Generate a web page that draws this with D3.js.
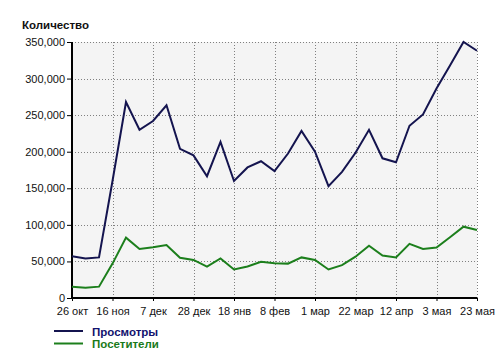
<!DOCTYPE html>
<html>
<head>
<meta charset="utf-8">
<script src="https://cdn.jsdelivr.net/npm/d3@7"></script>
<style>
  html, body { margin: 0; padding: 0; background: #fff; overflow: hidden; }
  svg { display: block; }
  svg text { font-family: "Liberation Sans", Arial, sans-serif; }
</style>
</head>
<body>
<div id="chart"></div>
<script>
// weekly points, 26 окт .. 23 мая
const tickLabels = ["26 окт", "16 ноя", "7 дек", "28 дек", "18 янв", "8 фев",
                    "1 мар", "22 мар", "12 апр", "3 мая", "23 мая"];
const views = [57000, 54000, 55500, 160000, 268000, 230000, 242000, 263500, 204000, 195000,
               166500, 213500, 160000, 178500, 187000, 173500, 197500, 228500, 200000, 153000,
               172500, 198500, 230000, 191000, 185500, 235500, 251000, 286500, 318000, 350000, 338000];
const visitors = [15500, 14000, 15500, 47000, 82500, 67000, 69500, 72500, 55000, 52000,
                  43000, 54000, 39000, 43000, 49500, 47500, 47000, 55500, 52000, 39000,
                  45000, 56500, 71500, 58000, 55500, 74000, 67000, 69000, 83000, 97500, 93000];
const seriesNames = ["Просмотры", "Посетители"];
const seriesColors = ["#14144f", "#1c7f1c"];
const yTicks = [0, 50000, 100000, 150000, 200000, 250000, 300000, 350000];

const width = 500, height = 355;
const margin = { top: 42, right: 23, bottom: 57, left: 72 };
const innerWidth = width - margin.left - margin.right;
const innerHeight = height - margin.top - margin.bottom;

const svg = d3.select("#chart").append("svg")
    .attr("width", width).attr("height", height);

const g = svg.append("g").attr("transform", `translate(${margin.left},${margin.top})`);

const x = d3.scaleLinear().domain([0, views.length - 1]).range([0, innerWidth]);
const y = d3.scaleLinear().domain([0, 350000]).range([innerHeight, 0]);

// plot background
g.append("rect").attr("width", innerWidth).attr("height", innerHeight).attr("fill", "#f4f4f4");

const tickIdx = tickLabels.map((d, i) => i * 3);

// grid
g.append("g").selectAll("line").data(yTicks.slice(1)).enter().append("line")
    .attr("x1", 0).attr("x2", innerWidth)
    .attr("y1", d => Math.round(y(d)) + 0.5).attr("y2", d => Math.round(y(d)) + 0.5)
    .attr("stroke", "#808080").attr("stroke-dasharray", "1,2");
g.append("g").selectAll("line").data(tickIdx.slice(1)).enter().append("line")
    .attr("x1", d => Math.round(x(d)) + 0.5).attr("x2", d => Math.round(x(d)) + 0.5)
    .attr("y1", 0).attr("y2", innerHeight)
    .attr("stroke", "#808080").attr("stroke-dasharray", "1,2");

// axes
const yAxis = g.append("g")
    .call(d3.axisLeft(y).tickValues(yTicks).tickSize(5).tickPadding(2).tickFormat(d3.format(",")));
const xAxis = g.append("g").attr("transform", `translate(0,${innerHeight})`)
    .call(d3.axisBottom(x).tickValues(tickIdx).tickSize(3).tickPadding(6)
        .tickFormat((d, i) => tickLabels[i]));
[yAxis, xAxis].forEach(a => {
    a.attr("font-family", null).attr("font-size", null);
    a.select(".domain").attr("stroke", "#000").attr("stroke-width", 2);
    a.selectAll(".tick line").attr("stroke", "#000");
    a.selectAll("text").attr("fill", "#111").style("font-size", "11px");
});
yAxis.select(".domain").attr("d", `M0,0V${innerHeight}`);
xAxis.select(".domain").attr("d", `M0,0H${innerWidth}`);

// lines
const line = d3.line().x((d, i) => x(i)).y(d => y(d));
[views, visitors].forEach((s, k) => {
    g.append("path").datum(s)
        .attr("d", line)
        .attr("fill", "none")
        .attr("stroke", seriesColors[k])
        .attr("stroke-width", 2)
        .attr("stroke-linejoin", "miter");
});

// title
svg.append("text").attr("x", 22).attr("y", 29)
    .text("Количество")
    .style("font-size", "11.5px").style("font-weight", "bold").attr("fill", "#111");

// legend
const legend = svg.append("g").attr("transform", "translate(54,331)");
seriesNames.forEach((name, k) => {
    const row = legend.append("g").attr("transform", `translate(0,${k * 12.5})`);
    row.append("line").attr("x1", 0).attr("x2", 29).attr("y1", 0).attr("y2", 0)
        .attr("stroke", seriesColors[k]).attr("stroke-width", 2);
    row.append("text").attr("x", 38).attr("y", 4.5).text(name)
        .style("font-size", "11.5px").style("font-weight", "bold")
        .attr("fill", k === 0 ? "#12126e" : "#1a7a1a");
});
</script>
</body>
</html>
